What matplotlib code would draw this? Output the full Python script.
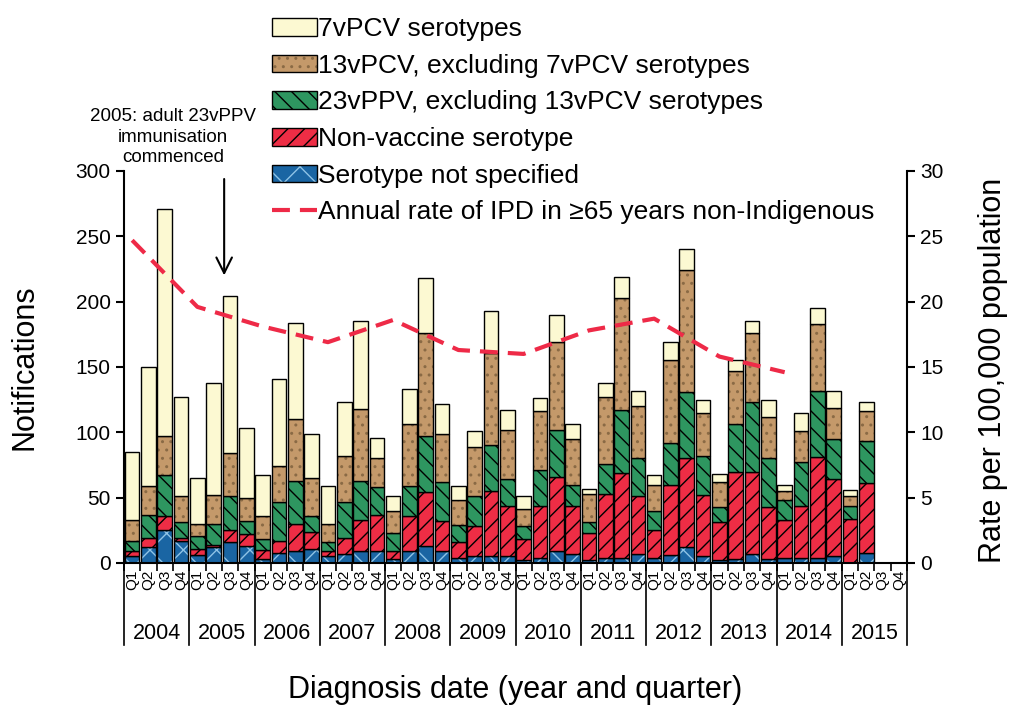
import matplotlib
matplotlib.use('Agg')
import matplotlib.pyplot as plt
import numpy as np
from matplotlib.patches import Patch
from matplotlib.lines import Line2D

plt.rcParams['font.family'] = ['Liberation Sans', 'DejaVu Sans']
plt.rcParams['hatch.linewidth'] = 1.0

quarters = ['Q1', 'Q2', 'Q3', 'Q4']
years = [str(y) for y in range(2004, 2016)]

# notifications per quarter, 2004 Q1 .. 2015 Q4
not_specified = [5, 12, 25, 17, 6, 12, 16, 13, 3, 8, 9, 11,
                 5, 7, 9, 9, 3, 9, 13, 9, 4, 5, 5, 5,
                 2, 4, 9, 7, 2, 4, 4, 7, 4, 6, 12, 5,
                 2, 3, 7, 3, 4, 4, 4, 5, 0, 8, 0, 0]
non_vaccine = [4, 7, 11, 2, 5, 2, 9, 9, 7, 9, 21, 13,
               4, 12, 24, 28, 6, 27, 41, 23, 12, 23, 50, 39,
               16, 40, 57, 37, 21, 49, 65, 44, 21, 54, 68, 47,
               29, 67, 63, 40, 29, 40, 77, 59, 34, 53, 0, 0]
ppv23_excl = [8, 18, 31, 12, 10, 16, 26, 10, 8, 30, 33, 12,
              7, 28, 30, 21, 14, 23, 43, 30, 13, 23, 35, 20,
              10, 27, 36, 16, 8, 23, 48, 29, 15, 32, 51, 30,
              12, 36, 53, 37, 15, 33, 51, 31, 10, 32, 0, 0]
pcv13_excl = [16, 22, 30, 20, 9, 22, 33, 18, 18, 27, 47, 29,
              14, 35, 55, 22, 17, 47, 79, 37, 19, 38, 71, 38,
              13, 45, 67, 35, 22, 51, 86, 40, 20, 63, 93, 33,
              19, 41, 53, 32, 7, 24, 51, 24, 7, 23, 0, 0]
pcv7 = [52, 91, 174, 76, 35, 86, 120, 53, 31, 67, 74, 34,
        29, 41, 67, 16, 11, 27, 42, 23, 11, 12, 32, 15,
        10, 10, 21, 11, 4, 11, 16, 12, 7, 14, 16, 10,
        6, 8, 9, 13, 5, 14, 12, 13, 5, 7, 0, 0]

# annual rate per 100,000, 2004 .. 2014
rate = [24.7, 19.6, 18.1, 16.9, 18.6, 16.3, 16.0, 17.8, 18.7, 15.8, 14.6]

W, H = 1010, 708
fig = plt.figure(figsize=(W / 100, H / 100), dpi=100)
ax = fig.add_axes([124 / W, 1 - 563 / H, (907 - 124) / W, (563 - 171) / H])

x = np.arange(len(pcv7))
layers = [
    (not_specified, '#1a65a3', '#8ec3e6', 'x'),
    (non_vaccine, '#ee2d45', 'black', '//'),
    (ppv23_excl, '#2e9660', 'black', '\\\\'),
    (pcv13_excl, '#c4996a', '#8a6a45', '..'),
    (pcv7, '#fcf9d2', 'black', None),
]
bottom = np.zeros(len(x))
for vals, fc, hc, h in layers:
    v = np.array(vals, dtype=float)
    ax.bar(x, v, 0.9, bottom=bottom, color=fc, edgecolor=hc, linewidth=0, hatch=h)
    ax.bar(x, v, 0.9, bottom=bottom, fill=False, edgecolor='black', linewidth=1)
    bottom += v

ax.set_xlim(-0.5, 47.5)
ax.set_ylim(0, 300)
ax.set_yticks(range(0, 301, 50))
ax.tick_params(axis='y', labelsize=15, length=6, width=1.5, direction='out')
ax.set_xticks(x)
ax.set_xticklabels([q for _ in years for q in quarters], rotation=90, fontsize=11)
ax.tick_params(axis='x', which='major', length=0, pad=5)
ax.set_xticks(np.arange(-0.5, 48, 1), minor=True)
ax.tick_params(axis='x', which='minor', length=6, width=1.2, direction='out')
for s in ['top', 'right']:
    ax.spines[s].set_visible(False)
ax.spines['left'].set_linewidth(1.5)
ax.spines['bottom'].set_linewidth(1.5)

tr = ax.get_xaxis_transform()
for k, yr in enumerate(years):
    ax.text(4 * k + 1.5, -0.179, yr, transform=tr, ha='center', va='center', fontsize=15.5)
for k in range(len(years) + 1):
    ax.plot([4 * k - 0.5, 4 * k - 0.5], [0, -0.21], transform=tr, color='black',
            lw=1.2, clip_on=False)

ax2 = ax.twinx()
ax2.set_ylim(0, 30)
ax2.set_yticks(range(0, 31, 5))
ax2.tick_params(axis='y', labelsize=15, length=6, width=1.5, direction='out')
ax2.spines['top'].set_visible(False)
ax2.spines['left'].set_visible(False)
ax2.spines['bottom'].set_visible(False)
ax2.spines['right'].set_linewidth(1.5)
rate_x = [4 * i for i in range(len(rate))]
ax2.plot(rate_x, rate, color='#ee2a47', lw=3, dashes=[4.3, 2.4])

ax.annotate('', xy=(5.64, 218), xytext=(5.64, 296), annotation_clip=False,
            arrowprops=dict(arrowstyle='->', lw=1.5, color='black', mutation_scale=28))
ax.text(2.5, 326, '2005: adult 23vPPV\nimmunisation\ncommenced', ha='center',
        va='center', fontsize=13.5, linespacing=1.3, clip_on=False)

fig.text(25 / W, 1 - 367 / H, 'Notifications', rotation=90, ha='center', va='center', fontsize=22)
fig.text(993 / W, 1 - 370 / H, 'Rate per 100,000 population', rotation=90, ha='center',
         va='center', fontsize=22)
fig.text(515 / W, 1 - 690 / H, 'Diagnosis date (year and quarter)', ha='center',
         va='center', fontsize=22)

def bar_handle(fc, hc, h):
    return (Patch(facecolor=fc, edgecolor=hc, linewidth=0, hatch=h),
            Patch(fill=False, edgecolor='black', linewidth=1))

handles = [bar_handle('#fcf9d2', 'black', None),
           bar_handle('#c4996a', '#8a6a45', '..'),
           bar_handle('#2e9660', 'black', '\\\\'),
           bar_handle('#ee2d45', 'black', '//'),
           bar_handle('#1a65a3', '#8ec3e6', 'x'),
           Line2D([], [], color='#ee2a47', lw=3, dashes=[4.3, 2.4])]
labels = ['7vPCV serotypes', '13vPCV, excluding 7vPCV serotypes',
          '23vPPV, excluding 13vPCV serotypes', 'Non-vaccine serotype',
          'Serotype not specified', 'Annual rate of IPD in \u226565 years non-Indigenous']
fig.legend(handles, labels, loc='upper left', bbox_to_anchor=(272 / W, 1 - 17 / H),
           frameon=False, fontsize=19, borderpad=0, borderaxespad=0, handlelength=1.7,
           handleheight=0.65, handletextpad=0.05, labelspacing=0.48)

fig.savefig('out.png', dpi=100)
